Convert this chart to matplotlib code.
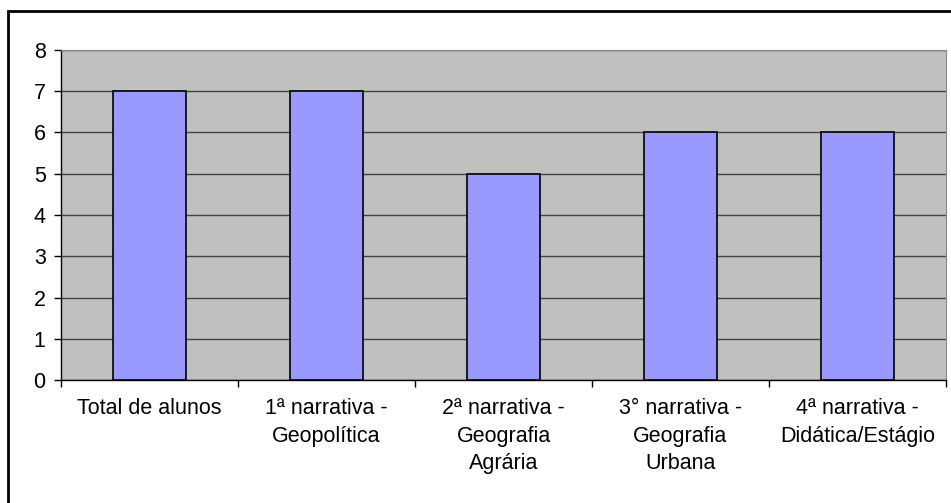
import matplotlib.pyplot as plt
from matplotlib.patches import Rectangle

categorias = ['Total de alunos',
              '1ª narrativa -\nGeopolítica',
              '2ª narrativa -\nGeografia\nAgrária',
              '3° narrativa -\nGeografia\nUrbana',
              '4ª narrativa -\nDidática/Estágio']
valores = [7, 7, 5, 6, 6]
yticks = [0, 1, 2, 3, 4, 5, 6, 7, 8]

plt.rcParams['font.family'] = ['Liberation Sans', 'DejaVu Sans']

fig = plt.figure(figsize=(9.51, 5.03), dpi=100)
ax = fig.add_axes([61/951, 1 - 380/503, 885/951, 330/503])

ax.set_facecolor('#c0c0c0')
x = list(range(len(categorias)))
ax.bar(x, valores, width=0.41, color='#9999ff', edgecolor='black', linewidth=1.2, zorder=3)

ax.set_xlim(-0.5, len(categorias) - 0.5)
ax.set_ylim(0, 8)
ax.set_yticks(yticks)
ax.yaxis.grid(True, color='#444444', linewidth=1, zorder=1)
ax.set_axisbelow(True)

# labels at centres, tick marks at the category boundaries
ax.set_xticks(x)
ax.set_xticklabels(categorias, linespacing=1.42)
ax.set_xticks([i - 0.5 for i in range(len(categorias) + 1)], minor=True)
ax.tick_params(axis='x', which='major', length=0, pad=13, labelsize=15.5)
ax.tick_params(axis='x', which='minor', length=5, width=1, color='black')
ax.tick_params(axis='y', length=5, width=1, pad=6, labelsize=15.5)

for s in ['left', 'bottom']:
    ax.spines[s].set_color('black')
    ax.spines[s].set_linewidth(1)
ax.spines['top'].set_color('#888888')
ax.spines['right'].set_color('#888888')

# outer chart border (cut off at right and bottom)
fig.patches.append(Rectangle((8/951, -0.05), 1.0, 1 - 11/503 + 0.05,
                             transform=fig.transFigure, fill=False,
                             edgecolor='black', linewidth=2))

fig.savefig('out.png', dpi=100)
